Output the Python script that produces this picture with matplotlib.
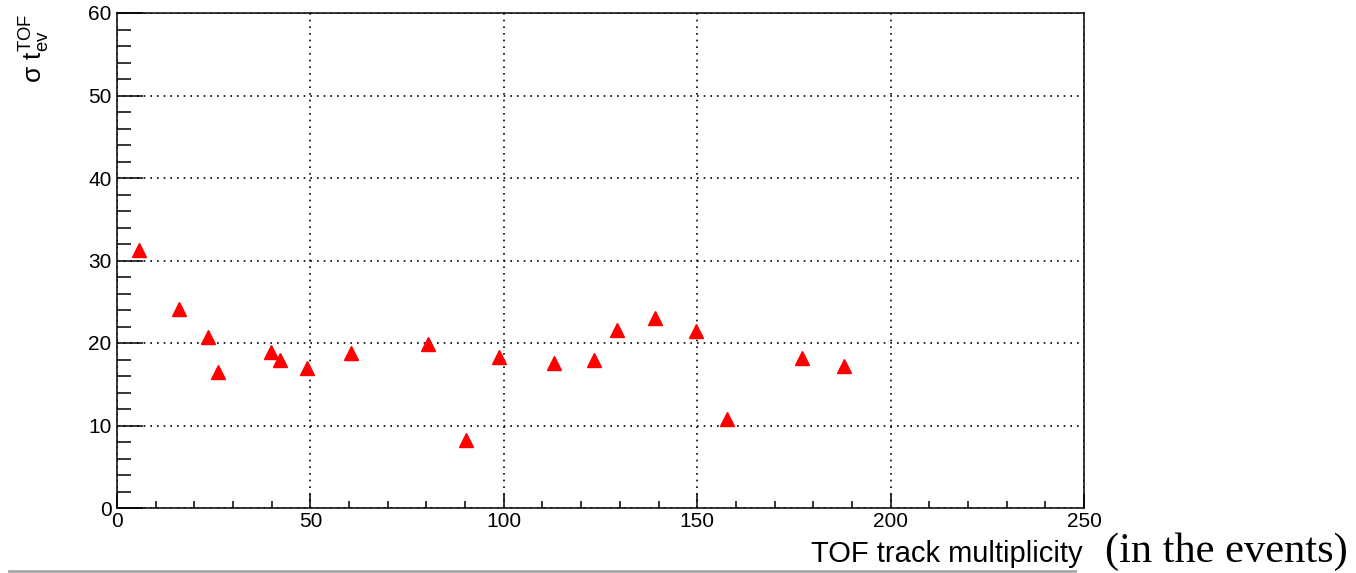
import numpy as np
import matplotlib
matplotlib.use('Agg')
import matplotlib.pyplot as plt
from matplotlib.ticker import MultipleLocator
from matplotlib.lines import Line2D

# values
multiplicity = [5.7, 16.0, 23.5, 26.1, 39.8, 42.1, 49.1, 60.5, 80.4, 90.2,
                98.8, 113.0, 123.3, 129.3, 139.1, 149.7, 157.7, 177.1, 188.0]
sigma_tev = [31.3, 24.1, 20.7, 16.5, 18.9, 17.9, 17.0, 18.8, 19.9, 8.2,
             18.3, 17.6, 17.9, 21.6, 23.0, 21.5, 10.8, 18.2, 17.2]

plt.rcParams['font.family'] = ['Liberation Sans', 'DejaVu Sans']
plt.rcParams['mathtext.fontset'] = 'custom'
plt.rcParams['mathtext.rm'] = 'Liberation Sans'
plt.rcParams['mathtext.it'] = 'Liberation Sans'

fig = plt.figure(figsize=(13.56, 5.73), dpi=100)
ax = fig.add_axes([117/1356, 1-508/573, (1084-117)/1356, (508-13)/573])

ax.plot(multiplicity, sigma_tev, linestyle='none', marker='^', ms=9.5,
        color='red', mec='red', zorder=3)

ax.set_xlim(0, 250)
ax.set_ylim(0, 60)
ax.xaxis.set_major_locator(MultipleLocator(50))
ax.xaxis.set_minor_locator(MultipleLocator(10))
ax.yaxis.set_major_locator(MultipleLocator(10))
ax.yaxis.set_minor_locator(MultipleLocator(2))

ax.tick_params(axis='both', which='both', direction='in', colors='black',
               labelsize=15)
ax.tick_params(axis='y', which='major', length=19, width=1.1, pad=4)
ax.tick_params(axis='y', which='minor', length=10, width=1.1)
ax.tick_params(axis='x', which='major', length=10, width=1.1, pad=3)
ax.tick_params(axis='x', which='minor', length=5, width=1.1)

for s in ax.spines.values():
    s.set_linewidth(1.1)

ax.grid(True, which='major', color='black', linestyle=(0, (1, 3)), lw=1.2)

# axis titles placed like the ROOT canvas
fig.text(1083/1356, 1-562/573, 'TOF track multiplicity', fontsize=21,
         ha='right', va='baseline')

fig.text(35/1356, 1-14/573, r'$\sigma\ \mathrm{t}_{\mathrm{ev}}^{\mathrm{TOF}}$',
         rotation=90, ha='center', va='top', fontsize=19)

fig.text(1105/1356, 1-562/573, '(in the events)', fontsize=30.5,
         family='Liberation Serif', ha='left', va='baseline')

fig.add_artist(Line2D([9/1356, 1075/1356], [1-570.5/573, 1-570.5/573],
                      color='#a8a8a8', lw=2, transform=fig.transFigure))

fig.savefig('out.png', dpi=100)
